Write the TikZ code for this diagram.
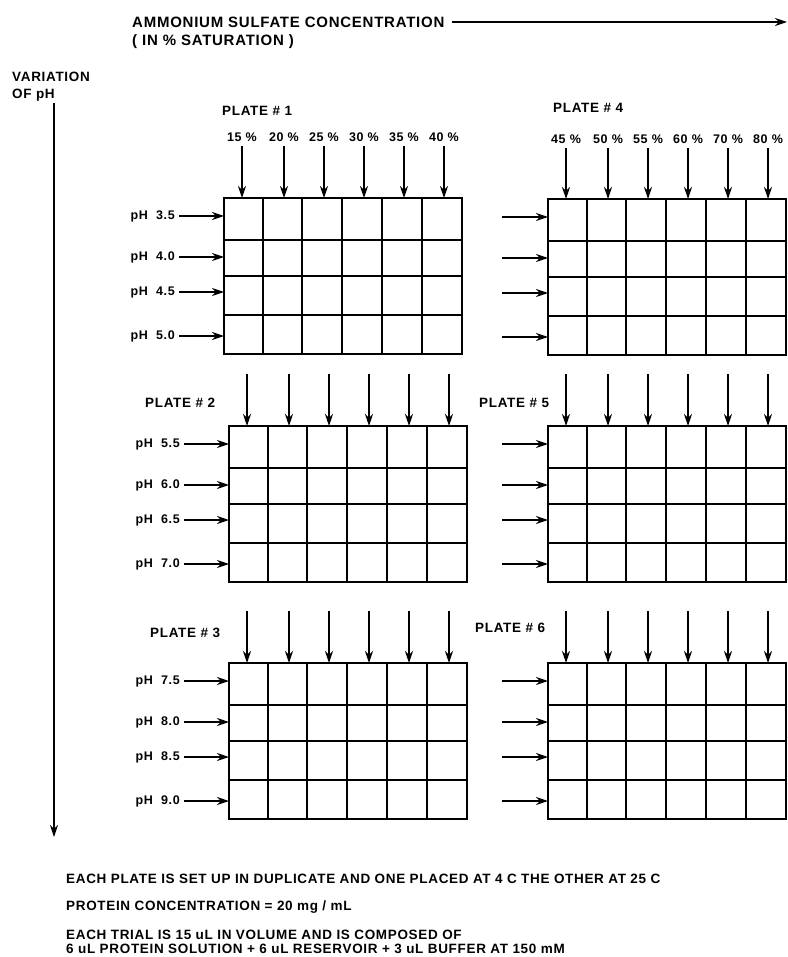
\documentclass[tikz,border=0pt]{standalone}
\usepackage{fontspec}
\setmainfont{Liberation Sans}[LetterSpace=5]
\usetikzlibrary{arrows.meta,positioning}

\begin{document}
\begin{tikzpicture}[x=1pt,y=-1pt,
    >={Stealth[length=12pt,width=8pt,inset=4pt]},
    wellline/.style={line width=1.4pt},
    feed/.style={->,line width=1.3pt},
    heading/.style={font=\fontsize{15}{17}\selectfont\bfseries,inner sep=0pt,anchor=west},
    head/.style={font=\fontsize{13.5}{15}\selectfont\bfseries,inner sep=0pt,anchor=west},
    lab/.style={font=\fontsize{12.5}{14}\selectfont\bfseries,inner sep=4pt},
    note/.style={font=\fontsize{13.5}{14}\selectfont\bfseries,inner sep=0pt,anchor=west,align=left}]
  \useasboundingbox (0,0) rectangle (787,957);

  % axes
  \node [heading] (conc) at (132,22) {AMMONIUM SULFATE CONCENTRATION};
  \node [heading] (sat) at (132,42) {( IN \% SATURATION )};
  \coordinate (concend) at (787,22);
  \draw [feed, shorten <=7pt] (conc) -- (concend);
  \node [head] (var) at (12,77) {VARIATION};
  \node [head] (ofph) at (12,95) {OF pH};
  \coordinate (phtop) at (54,103);
  \coordinate (phend) at (54,837);
  \draw [feed] (phtop) -- (phend);

  % plates
  \foreach \n/\px/\py/\lx/\ly in {1/224/198/222/111, 2/229/426/145/403, 3/229/663/150/633,
      4/548/199/553/108, 5/548/426/479/403, 6/548/663/475/628} {
    \node [head] (plate\n) at (\lx,\ly) {PLATE \# \n};
    \draw [wellline] (\px,\py) rectangle ++(238,156);
    \foreach \cx in {39,78,118,158,198}
      \draw [wellline] (\px+\cx,\py) -- ++(0,156);
    \foreach \ry in {42,78,117}
      \draw [wellline] (\px,\py+\ry) -- ++(238,0);
    \foreach \cx [count=\i] in {18,60,100,140,180,220}
      \coordinate (p\n-t\i) at (\px+\cx,\py);
    \foreach \ry [count=\i] in {18,59,94,138}
      \coordinate (p\n-l\i) at (\px,\py+\ry);
  }

  % concentrations
  \foreach \pc [count=\i] in {15,20,25,30,35,40} {
    \node [lab, above=52pt of p1-t\i] (pc1-\i) {\pc\ \%};
    \draw [feed] (pc1-\i) -- (p1-t\i);
  }
  \foreach \pc [count=\i] in {45,50,55,60,70,80} {
    \node [lab, above=51pt of p4-t\i] (pc4-\i) {\pc\ \%};
    \draw [feed] (pc4-\i) -- (p4-t\i);
  }
  \foreach \n in {2,3,5,6}
    \foreach \i in {1,...,6} {
      \coordinate [above=52pt of p\n-t\i] (p\n-d\i);
      \draw [feed] (p\n-d\i) -- (p\n-t\i);
    }

  % pH rows
  \foreach \n/\phs in {1/{3.5,4.0,4.5,5.0}, 2/{5.5,6.0,6.5,7.0}, 3/{7.5,8.0,8.5,9.0}}
    \foreach \ph [count=\i] in \phs {
      \node [lab, left=45pt of p\n-l\i] (ph\n-\i) {pH\ \ \ph};
      \draw [feed] (ph\n-\i) -- (p\n-l\i);
    }
  \foreach \n in {4,5,6}
    \foreach \i in {1,...,4} {
      \coordinate [left=46pt of p\n-l\i] (p\n-s\i);
      \draw [feed] (p\n-s\i) -- (p\n-l\i);
    }

  % notes
  \node [note] (note1) at (66,879) {EACH PLATE IS SET UP IN DUPLICATE AND ONE PLACED AT 4 C THE OTHER AT 25 C};
  \node [note] (note2) at (66,907) {PROTEIN CONCENTRATION = 20 mg / mL};
  \node [note] (note3) at (66,942) {EACH TRIAL IS 15 uL IN VOLUME AND IS COMPOSED OF\\
    6 uL PROTEIN SOLUTION + 6 uL RESERVOIR + 3 uL BUFFER AT 150 mM};
\end{tikzpicture}
\end{document}
